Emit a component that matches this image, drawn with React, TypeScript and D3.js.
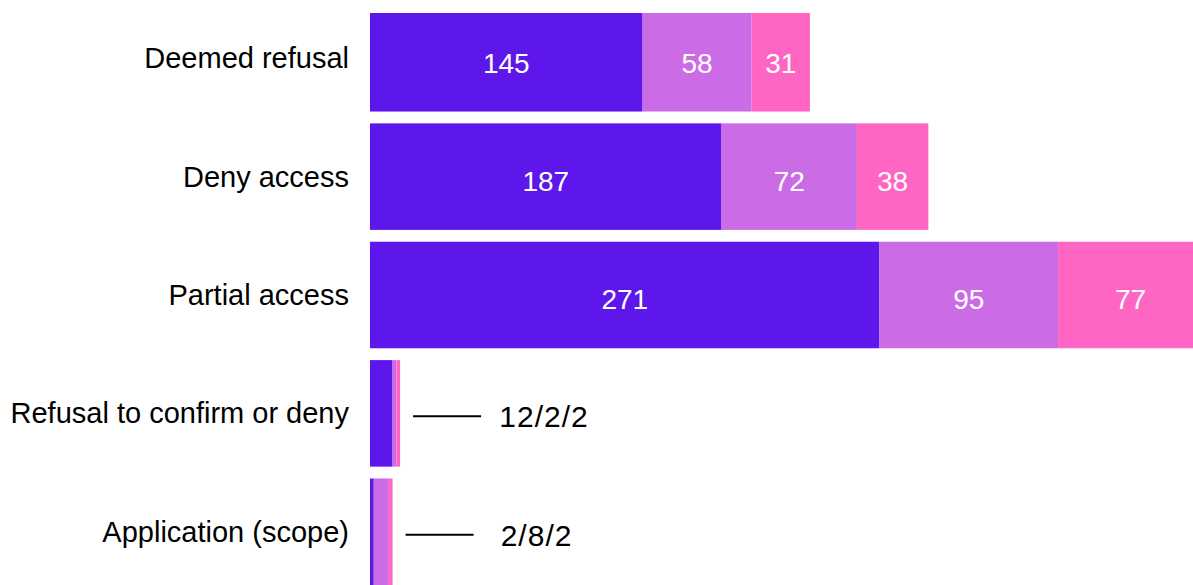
import React from "react";
import * as d3 from "d3";

const categories = [
  "Deemed refusal",
  "Deny access",
  "Partial access",
  "Refusal to confirm or deny",
  "Application (scope)",
];
const seriesA = [145, 187, 271, 12, 2];
const seriesB = [58, 72, 95, 2, 8];
const seriesC = [31, 38, 77, 2, 2];
const colors = ["#5E17EB", "#CB6CE6", "#FF66C4"];
// which rows show values inside the bars (vs. an external annotation)
const insideLabels = [true, true, true, false, false];

const W = 1193;
const H = 585;

export default function App() {
  const series = [seriesA, seriesB, seriesC];
  const totals = categories.map((_, i) => seriesA[i] + seriesB[i] + seriesC[i]);
  const maxTotal = d3.max(totals) as number;

  const x = d3.scaleLinear().domain([0, maxTotal]).range([370, 370 + maxTotal * 1.88]);
  const y = d3
    .scaleBand<string>()
    .domain(categories)
    .range([5, 585])
    .paddingInner(0.1)
    .paddingOuter(0);

  const rows = categories.map((c, i) => {
    let acc = 0;
    const segs = series.map((s, k) => {
      const x0 = acc;
      acc += s[i];
      return { x0, x1: acc, v: s[i], color: colors[k] };
    });
    return { c, i, segs };
  });

  return (
    <div style={{ position: "fixed", left: 0, top: 0 }}>
      <svg width={W} height={H} style={{ display: "block", background: "#fff" }}>
        <defs>
          <clipPath id="plotClip">
            <rect x={0} y={13} width={W} height={H - 13} />
          </clipPath>
        </defs>
        <g clipPath="url(#plotClip)">
          {rows.map((r) =>
            r.segs.map((s, k) => (
              <rect
                key={r.c + k}
                x={x(s.x0)}
                y={y(r.c)!}
                width={x(s.x1) - x(s.x0)}
                height={y.bandwidth()}
                fill={s.color}
              />
            ))
          )}
        </g>
        {rows.map((r) =>
          insideLabels[r.i]
            ? r.segs.map((s, k) => (
                <text
                  key={"l" + r.c + k}
                  x={(x(s.x0) + x(s.x1)) / 2}
                  y={y(r.c)! + y.bandwidth() / 2 + 7}
                  textAnchor="middle"
                  dominantBaseline="middle"
                  fill="#fff"
                  fontFamily="'Liberation Sans', Arial, sans-serif"
                  fontSize={28}
                >
                  {s.v}
                </text>
              ))
            : null
        )}
        {categories.map((c) => (
          <text
            key={"c" + c}
            x={349}
            y={y(c)! + y.bandwidth() / 2 + 10}
            textAnchor="end"
            fill="#000"
            fontFamily="'Liberation Sans', Arial, sans-serif"
            fontSize={29}
          >
            {c}
          </text>
        ))}
        {rows.map((r) => {
          if (insideLabels[r.i]) return null;
          const end = x(totals[r.i]);
          const cy = y(r.c)! + y.bandwidth() / 2 + 3;
          const x1 = end + 13;
          const x2 = x1 + 68;
          return (
            <g key={"a" + r.c}>
              <line x1={x1} x2={x2} y1={cy} y2={cy} stroke="#000" strokeWidth={2} />
              <text
                x={x2 + 63}
                y={cy + 11}
                textAnchor="middle"
                fill="#000"
                fontFamily="'Liberation Sans', Arial, sans-serif"
                fontSize={30}
                letterSpacing={1}
              >
                {r.segs.map((s) => s.v).join("/")}
              </text>
            </g>
          );
        })}
      </svg>
    </div>
  );
}
